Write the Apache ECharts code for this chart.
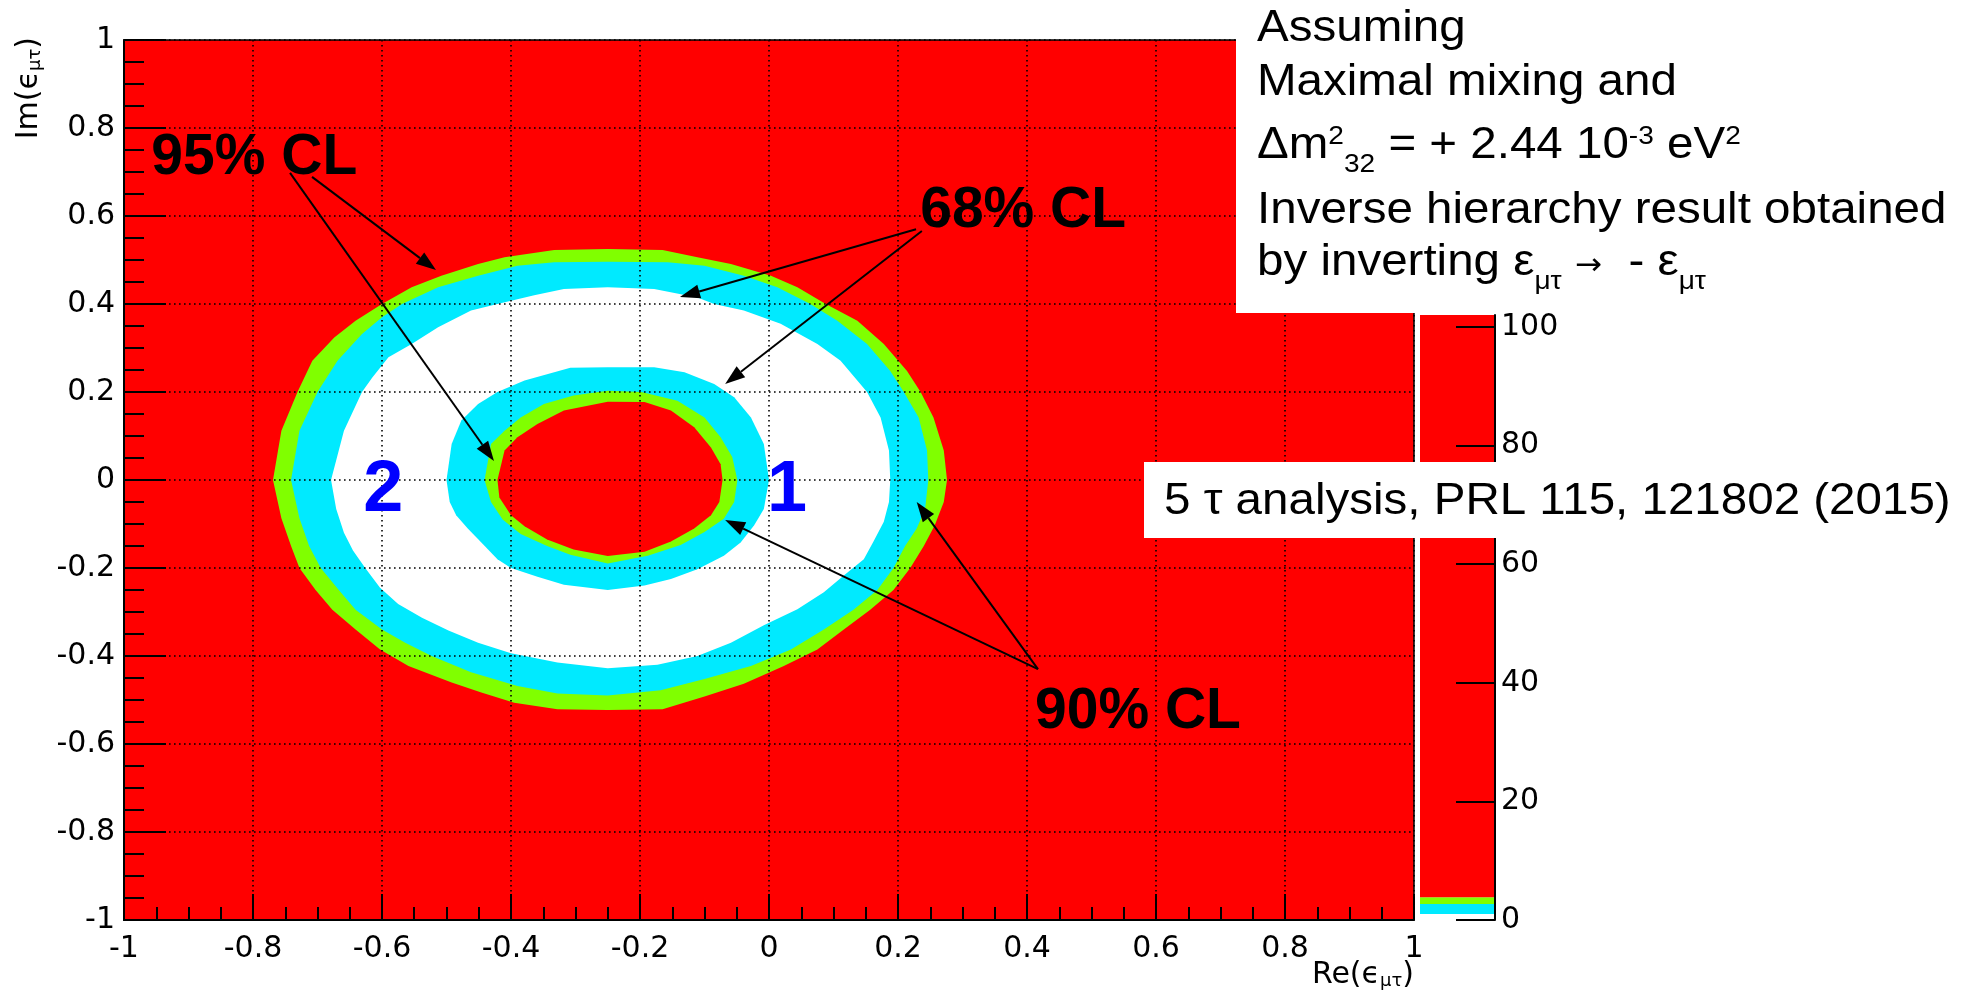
<!DOCTYPE html>
<html>
<head>
<meta charset="utf-8">
<script src="https://cdn.jsdelivr.net/npm/echarts@6/dist/echarts.min.js"></script>
<style>
html,body{margin:0;padding:0;background:#fff;}
#chart{width:1980px;height:997px;}
</style>
</head>
<body>
<div id="chart"></div>
<script>
// ---------------- data ----------------
const xRange = [-1, 1];          // Re(eps_mu_tau) histogram range
const yRange = [-1, 1];          // Im(eps_mu_tau) histogram range
const tickStep = 0.2;

// contour boundaries [Re, Im]
const contour95Outer = [[0.276,0],[0.271,0.067],[0.255,0.142],[0.235,0.2],[0.214,0.248],[0.178,0.309],[0.137,0.362],[0.088,0.4],[0.044,0.438],[0.003,0.464],[-0.059,0.491],[-0.111,0.506],[-0.165,0.523],[-0.25,0.525],[-0.333,0.523],[-0.41,0.506],[-0.451,0.491],[-0.508,0.464],[-0.554,0.438],[-0.6,0.4],[-0.641,0.362],[-0.674,0.324],[-0.708,0.271],[-0.731,0.2],[-0.756,0.112],[-0.769,0],[-0.756,-0.087],[-0.741,-0.15],[-0.728,-0.2],[-0.703,-0.25],[-0.677,-0.295],[-0.641,-0.34],[-0.603,-0.385],[-0.559,-0.423],[-0.492,-0.46],[-0.446,-0.483],[-0.395,-0.506],[-0.328,-0.521],[-0.25,-0.523],[-0.165,-0.521],[-0.1,-0.492],[-0.039,-0.463],[0.023,-0.423],[0.075,-0.385],[0.116,-0.34],[0.157,-0.295],[0.193,-0.25],[0.219,-0.2],[0.24,-0.15],[0.257,-0.103],[0.271,-0.05]];
const contour90Outer = [[0.247,0],[0.245,0.067],[0.232,0.142],[0.209,0.2],[0.188,0.248],[0.152,0.309],[0.106,0.362],[0.064,0.4],[0.013,0.438],[-0.039,0.464],[-0.1,0.487],[-0.157,0.495],[-0.25,0.496],[-0.333,0.495],[-0.39,0.487],[-0.451,0.464],[-0.513,0.438],[-0.569,0.4],[-0.6,0.37],[-0.631,0.332],[-0.669,0.271],[-0.7,0.2],[-0.728,0.112],[-0.741,0],[-0.728,-0.087],[-0.713,-0.15],[-0.695,-0.2],[-0.667,-0.25],[-0.641,-0.295],[-0.6,-0.34],[-0.564,-0.37],[-0.523,-0.4],[-0.462,-0.437],[-0.39,-0.468],[-0.328,-0.485],[-0.25,-0.49],[-0.168,-0.478],[-0.1,-0.452],[-0.028,-0.423],[0.034,-0.385],[0.085,-0.34],[0.131,-0.295],[0.168,-0.25],[0.193,-0.2],[0.211,-0.15],[0.229,-0.11],[0.242,-0.066]];
const contour68Outer = [[0.188,0],[0.186,0.067],[0.173,0.142],[0.152,0.2],[0.111,0.271],[0.075,0.309],[0.018,0.355],[-0.039,0.385],[-0.085,0.4],[-0.111,0.415],[-0.178,0.434],[-0.25,0.438],[-0.318,0.434],[-0.364,0.42],[-0.421,0.4],[-0.462,0.385],[-0.513,0.347],[-0.554,0.309],[-0.59,0.279],[-0.615,0.233],[-0.631,0.2],[-0.659,0.112],[-0.679,0],[-0.671,-0.066],[-0.659,-0.12],[-0.645,-0.16],[-0.626,-0.2],[-0.603,-0.245],[-0.575,-0.282],[-0.538,-0.313],[-0.497,-0.342],[-0.451,-0.37],[-0.4,-0.394],[-0.328,-0.415],[-0.25,-0.428],[-0.173,-0.42],[-0.111,-0.4],[-0.059,-0.37],[-0.008,-0.33],[0.044,-0.294],[0.085,-0.255],[0.116,-0.217],[0.147,-0.18],[0.162,-0.14],[0.178,-0.095],[0.186,-0.05]];
const contour68Inner = [[0.0,0],[-0.008,0.082],[-0.028,0.142],[-0.054,0.188],[-0.085,0.218],[-0.131,0.245],[-0.178,0.256],[-0.25,0.256],[-0.308,0.255],[-0.333,0.245],[-0.379,0.226],[-0.421,0.2],[-0.451,0.173],[-0.477,0.135],[-0.492,0.082],[-0.5,0],[-0.495,-0.05],[-0.485,-0.08],[-0.467,-0.11],[-0.446,-0.142],[-0.421,-0.18],[-0.4,-0.2],[-0.359,-0.22],[-0.318,-0.238],[-0.25,-0.25],[-0.193,-0.24],[-0.152,-0.225],[-0.111,-0.203],[-0.07,-0.172],[-0.044,-0.142],[-0.023,-0.103],[-0.008,-0.066]];
const contour90Inner = [[-0.049,0],[-0.057,0.052],[-0.075,0.097],[-0.1,0.142],[-0.142,0.18],[-0.198,0.2],[-0.25,0.203],[-0.303,0.192],[-0.349,0.173],[-0.385,0.142],[-0.41,0.112],[-0.431,0.082],[-0.441,0],[-0.431,-0.05],[-0.413,-0.09],[-0.385,-0.123],[-0.344,-0.15],[-0.308,-0.17],[-0.25,-0.19],[-0.188,-0.172],[-0.137,-0.148],[-0.1,-0.118],[-0.07,-0.088],[-0.054,-0.05]];
const contour95Inner = [[-0.072,0],[-0.075,0.036],[-0.09,0.074],[-0.116,0.12],[-0.152,0.158],[-0.193,0.177],[-0.25,0.178],[-0.318,0.158],[-0.359,0.127],[-0.39,0.097],[-0.41,0.067],[-0.421,0],[-0.418,-0.04],[-0.4,-0.08],[-0.379,-0.105],[-0.344,-0.135],[-0.303,-0.158],[-0.25,-0.173],[-0.193,-0.163],[-0.152,-0.14],[-0.116,-0.11],[-0.09,-0.08],[-0.077,-0.05]];

// palette (delta chi2) band edges and colour-axis ticks
const zLevels = [1.0, 2.71, 3.84, 102];
const zTicks = [0, 20, 40, 60, 80, 100];

// annotations
const clLabels = ['95% CL', '68% CL', '90% CL'];
const clLabelPos = [[-0.798, 0.732], [0.394, 0.611], [0.572, -0.527]];
const solutionLabels = ['1', '2'];
const solutionPos = [[0.028, -0.025], [-0.598, -0.025]];
const arrowFrom = [[-0.7085, 0.689], [-0.7426, 0.698], [0.228, 0.570], [0.237, 0.566], [0.417, -0.430], [0.417, -0.430]];
const arrowTo   = [[-0.5163, 0.477], [-0.4264, 0.043], [-0.138, 0.416], [-0.068, 0.218], [-0.068, -0.091], [0.229, -0.05]];

const noteLines = [
  'Assuming',
  'Maximal mixing and',
  '\u0394m{sup|2}{sub|32} = + 2.44 10{sup|-3} eV{sup|2}',
  'Inverse hierarchy result obtained',
  'by inverting \u03b5{sub|\u03bc\u03c4} {arr|\u2192}  - \u03b5{sub|\u03bc\u03c4}'
];
const refNote = '5 \u03c4 analysis, PRL 115, 121802 (2015)';

// ---------------- styles ----------------
const RED = '#ff0000', GREEN = '#80ff00', CYAN = '#00eaff', WHITE = '#ffffff';
const regionPolys = [null, contour95Outer, contour90Outer, contour68Outer, contour68Inner, contour90Inner, contour95Inner];
const regionColors = [RED, GREEN, CYAN, WHITE, CYAN, GREEN, RED];
const paletteColors = [CYAN, GREEN, RED];
const ROOTFONT = '"DejaVu Sans"';
const NOTEFONT = '"Liberation Sans"';
const LABELSIZE = 30;

const chart = echarts.init(document.getElementById('chart'), null, {renderer: 'canvas'});

const tickLine = {color: '#000', width: 2};
const mainAxisCommon = {
  type: 'value', interval: tickStep, z: 5,
  axisLine: {show: true, onZero: false, lineStyle: {color: '#000', width: 2}},
  splitLine: {show: true, lineStyle: {color: '#000', width: 1.6, type: [1.6, 3.4]}},
  axisLabel: {color: '#000', fontFamily: ROOTFONT, fontSize: LABELSIZE}
};

const option = {
  animation: false,
  backgroundColor: '#fff',
  grid: [
    {left: 124, right: 566, top: 40, bottom: 77, show: true, borderColor: '#000', borderWidth: 1.5, backgroundColor: 'transparent', z: 5},
    {left: 1420, width: 75, top: 315, bottom: 77, show: false}
  ],
  xAxis: [
    Object.assign({}, mainAxisCommon, {
      gridIndex: 0, min: xRange[0], max: xRange[1],
      axisTick: {show: true, inside: true, length: 26, lineStyle: tickLine},
      minorTick: {show: true, splitNumber: 4, length: 13, lineStyle: tickLine},
      axisLabel: Object.assign({}, mainAxisCommon.axisLabel, {margin: 14})
    }),
    {gridIndex: 1, type: 'value', min: 0, max: 1, show: false}
  ],
  yAxis: [
    Object.assign({}, mainAxisCommon, {
      gridIndex: 0, min: yRange[0], max: yRange[1],
      axisTick: {show: true, inside: true, length: 42, lineStyle: tickLine},
      minorTick: {show: true, splitNumber: 4, length: 20, lineStyle: tickLine},
      axisLabel: Object.assign({}, mainAxisCommon.axisLabel, {margin: 9})
    }),
    {
      gridIndex: 1, type: 'value', position: 'right', min: 0, max: zLevels[zLevels.length - 1], z: 5,
      axisLine: {show: true, onZero: false, lineStyle: {color: '#000', width: 2}},
      axisTick: {show: true, inside: true, length: 39, customValues: zTicks, lineStyle: tickLine},
      axisLabel: {show: true, customValues: zTicks, color: '#000', fontFamily: ROOTFONT, fontSize: LABELSIZE, margin: 6},
      splitLine: {show: false}
    }
  ],
  series: [
    { // confidence regions
      type: 'custom', xAxisIndex: 0, yAxisIndex: 0, z: 1, silent: true,
      data: regionColors.map((c, i) => [0, 0, i]),
      renderItem: function (params, api) {
        const i = params.dataIndex;
        if (!regionPolys[i]) {
          const p0 = api.coord([xRange[0], yRange[1]]);
          const p1 = api.coord([xRange[1], yRange[0]]);
          return {type: 'rect', shape: {x: p0[0], y: p0[1], width: p1[0] - p0[0], height: p1[1] - p0[1]}, style: {fill: regionColors[i]}};
        }
        return {type: 'polygon', shape: {points: regionPolys[i].map(p => api.coord(p))}, style: {fill: regionColors[i]}};
      }
    },
    { // arrows
      type: 'custom', xAxisIndex: 0, yAxisIndex: 0, z: 8, silent: true,
      data: arrowTo.map((p, i) => [p[0], p[1], i]),
      renderItem: function (params, api) {
        const i = params.dataIndex;
        const a = api.coord(arrowFrom[i]), b = api.coord(arrowTo[i]);
        const dx = b[0] - a[0], dy = b[1] - a[1], L = Math.hypot(dx, dy);
        const ux = dx / L, uy = dy / L, hl = 20, hw = 7;
        const base = [b[0] - ux * hl, b[1] - uy * hl];
        return {type: 'group', children: [
          {type: 'line', shape: {x1: a[0], y1: a[1], x2: base[0], y2: base[1]}, style: {stroke: '#000', lineWidth: 2}},
          {type: 'polygon', shape: {points: [b, [base[0] - uy * hw, base[1] + ux * hw], [base[0] + uy * hw, base[1] - ux * hw]]}, style: {fill: '#000'}}
        ]};
      }
    },
    { // CL labels
      type: 'custom', xAxisIndex: 0, yAxisIndex: 0, z: 9, silent: true,
      data: clLabelPos.map((p, i) => [p[0], p[1], i]),
      renderItem: function (params, api) {
        const i = params.dataIndex, p = api.coord(clLabelPos[i]);
        return {type: 'text', x: p[0], y: p[1], style: {text: clLabels[i], fill: '#000', font: 'bold 57px ' + NOTEFONT, align: 'center', verticalAlign: 'middle'}};
      }
    },
    { // solution numbers
      type: 'custom', xAxisIndex: 0, yAxisIndex: 0, z: 9, silent: true,
      data: solutionPos.map((p, i) => [p[0], p[1], i]),
      renderItem: function (params, api) {
        const i = params.dataIndex, p = api.coord(solutionPos[i]);
        return {type: 'text', x: p[0], y: p[1], style: {text: solutionLabels[i], fill: '#0000ff', font: 'bold 72px ' + NOTEFONT, align: 'center', verticalAlign: 'middle'}};
      }
    },
    { // colour palette
      type: 'custom', xAxisIndex: 1, yAxisIndex: 1, z: 1, silent: true,
      data: paletteColors.map((c, i) => [0, zLevels[i], i]),
      renderItem: function (params, api) {
        const i = params.dataIndex;
        const p0 = api.coord([0, zLevels[i + 1]]), p1 = api.coord([1, zLevels[i]]);
        return {type: 'rect', shape: {x: p0[0], y: p0[1], width: p1[0] - p0[0], height: p1[1] - p0[1]}, style: {fill: paletteColors[i]}};
      }
    }
  ],
  graphic: [
    // axis titles
    {type: 'text', x: 1414, y: 975, z: 50, style: {text: 'Re(\u03f5{s|\u03bc\u03c4})', fill: '#000', font: '30px ' + ROOTFONT, align: 'right', verticalAlign: 'middle',
      rich: {s: {fontSize: 18, fontFamily: 'DejaVu Sans', verticalAlign: 'bottom', lineHeight: 20}}}},
    {type: 'text', x: 29, y: 37, rotation: Math.PI / 2, z: 50, style: {text: 'Im(\u03f5{s|\u03bc\u03c4})', fill: '#000', font: '30px ' + ROOTFONT, align: 'right', verticalAlign: 'middle',
      rich: {s: {fontSize: 18, fontFamily: 'DejaVu Sans', verticalAlign: 'bottom', lineHeight: 20}}}},
    // note boxes
    {type: 'rect', z: 100, shape: {x: 1236, y: 0, width: 744, height: 313}, style: {fill: '#fff'}},
    {type: 'rect', z: 100, shape: {x: 1144, y: 462, width: 836, height: 76}, style: {fill: '#fff'}},
    {type: 'text', z: 101, x: 1257, y: 29, scaleX: 1.08, style: {text: noteLines[0], fill: '#000', font: '44px ' + NOTEFONT, align: 'left', verticalAlign: 'middle'}},
    {type: 'text', z: 101, x: 1257, y: 83, scaleX: 1.08, style: {text: noteLines[1], fill: '#000', font: '44px ' + NOTEFONT, align: 'left', verticalAlign: 'middle'}},
    {type: 'text', z: 101, x: 1257, y: 146, scaleX: 1.08, style: {text: noteLines[2], fill: '#000', font: '44px ' + NOTEFONT, align: 'left', verticalAlign: 'middle', lineHeight: 64,
      rich: {sup: {fontSize: 26, fontFamily: 'Liberation Sans', verticalAlign: 'top', padding: [10, 0, 0, 0]},
             sub: {fontSize: 26, fontFamily: 'Liberation Sans', verticalAlign: 'bottom', lineHeight: 18}}}},
    {type: 'text', z: 101, x: 1257, y: 211, scaleX: 1.08, style: {text: noteLines[3], fill: '#000', font: '44px ' + NOTEFONT, align: 'left', verticalAlign: 'middle'}},
    {type: 'text', z: 101, x: 1257, y: 263, scaleX: 1.08, style: {text: noteLines[4], fill: '#000', font: '44px ' + NOTEFONT, align: 'left', verticalAlign: 'middle', lineHeight: 64,
      rich: {sub: {fontSize: 26, fontFamily: 'Liberation Sans', verticalAlign: 'bottom', lineHeight: 18},
             arr: {fontSize: 30, fontFamily: 'DejaVu Sans', verticalAlign: 'middle', padding: [6, 0, 0, 0]}}}},
    {type: 'text', z: 101, x: 1164, y: 502, scaleX: 1.08, style: {text: refNote, fill: '#000', font: '44px ' + NOTEFONT, align: 'left', verticalAlign: 'middle'}}
  ]
};

chart.setOption(option);
</script>
</body>
</html>
